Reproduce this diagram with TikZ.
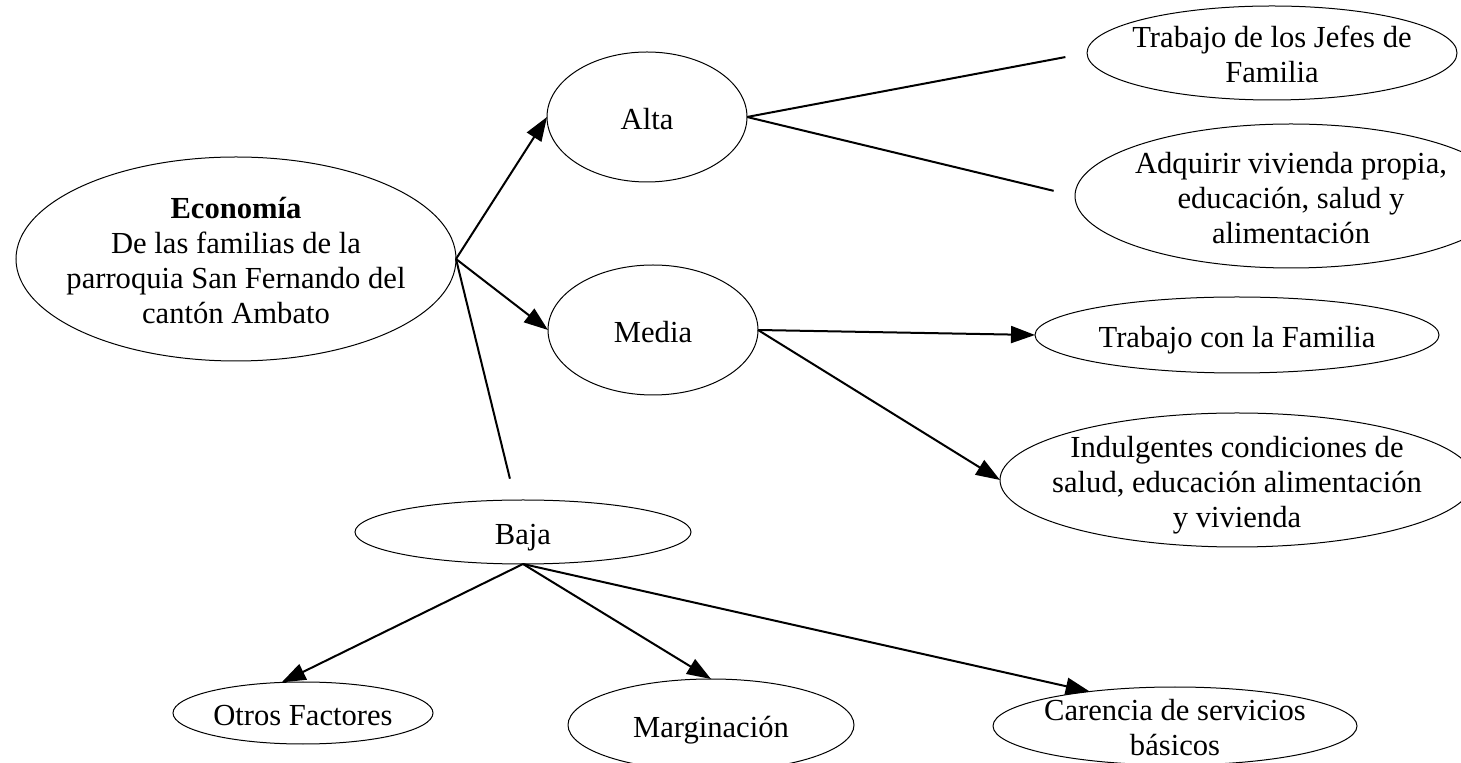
\documentclass[tikz,border=0pt]{standalone}
\usepackage{fontspec}
\setmainfont{Liberation Serif}
\usetikzlibrary{shapes.geometric,arrows.meta}
\newcommand\ztext[1]{\smash{\raisebox{-0.4em}{\makebox[0pt]{\begin{tabular}{@{}c@{}}#1\end{tabular}}}}}
\tikzset{
  ov/.style={ellipse, draw, line width=0.5pt, inner sep=0pt, outer sep=0pt,
             font=\fontsize{15.3}{17.5}\selectfont},
  arr/.style={line width=1pt, -{Triangle[length=12pt,width=8.5pt]}},
  ln/.style={line width=1pt, shorten >=11pt},
}
\begin{document}
\begin{tikzpicture}[x=0.5pt,y=-0.5pt]
\useasboundingbox (0,0) rectangle (1461,763);
\node[ov, minimum width=220pt, minimum height=102pt] (eco) at (236,259)
  {\ztext{\textbf{Economía}\\De las familias de la\\parroquia San Fernando del\\cantón Ambato}};
\node[ov, minimum width=100pt, minimum height=65pt] (alta) at (647,117) {\ztext{Alta}};
\node[ov, minimum width=105pt, minimum height=65pt] (media) at (653,330) {\ztext{Media}};
\node[ov, minimum width=168pt, minimum height=32pt] (baja) at (523,532) {\ztext{Baja}};
\node[ov, minimum width=185pt, minimum height=47pt] (tjf) at (1272,53)
  {\ztext{Trabajo de los Jefes de\\Familia}};
\node[ov, minimum width=216pt, minimum height=72pt] (adq) at (1291,196)
  {\ztext{Adquirir vivienda propia,\\educación, salud y\\alimentación}};
\node[ov, minimum width=202pt, minimum height=38pt] (tcf) at (1237,335)
  {\ztext{Trabajo con la Familia}};
\node[ov, minimum width=237pt, minimum height=67pt] (ind) at (1237,480)
  {\ztext{Indulgentes condiciones de\\salud, educación alimentación\\y vivienda}};
\node[ov, minimum width=130pt, minimum height=31pt] (otros) at (303,713)
  {\ztext{Otros Factores}};
\node[ov, minimum width=143pt, minimum height=46pt] (marg) at (711,725)
  {\ztext{Marginación}};
\node[ov, minimum width=182pt, minimum height=39pt] (car) at (1175,726)
  {\ztext{Carencia de servicios\\básicos}};

\draw[arr] (eco.east) -- (alta.west);
\draw[arr] (eco.east) -- (media.west);
\draw[ln] (eco.east) -- (baja);
\draw[ln] (alta.east) -- (tjf.west);
\draw[ln] (alta.east) -- (adq.west);
\draw[arr] (media.east) -- (tcf.west);
\draw[arr] (media.east) -- (ind.west);
\draw[arr] (baja.south) -- (otros.125);
\draw[arr] (baja.south) -- (marg.north);
\draw[arr] (baja.south) -- (car.158);
\end{tikzpicture}
\end{document}
